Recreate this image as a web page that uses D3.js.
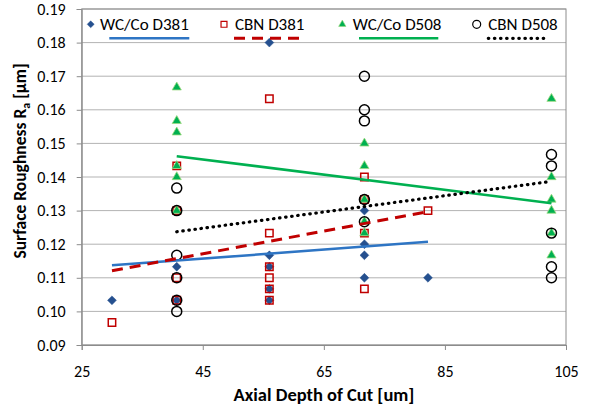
<!DOCTYPE html>
<html>
<head>
<meta charset="utf-8">
<script src="https://cdn.jsdelivr.net/npm/d3@7"></script>
<style>
  html, body { margin: 0; padding: 0; background: #fff; }
  svg { display: block; }
  text { font-family: Carlito, Calibri, Lato, "Noto Sans", sans-serif; fill: #000; }
</style>
</head>
<body>
<svg id="chart" width="602" height="407"></svg>
<script>
// Surface roughness Ra [µm] versus axial depth of cut [um]
const xTicks = [25, 45, 65, 85, 105];
const yTicks = [0.09, 0.10, 0.11, 0.12, 0.13, 0.14, 0.15, 0.16, 0.17, 0.18, 0.19];

const seriesNames = ["WC/Co D381", "CBN D381", "WC/Co D508", "CBN D508"];

const wcCoD381 = [
  [30, 0.1033],
  [40.7, 0.1133], [40.7, 0.1033],
  [56, 0.18], [56, 0.1167], [56, 0.1133], [56, 0.1067], [56, 0.1033],
  [71.7, 0.13], [71.7, 0.12], [71.7, 0.1167], [71.7, 0.11],
  [82.2, 0.11]
];
const cbnD381 = [
  [30, 0.0967],
  [40.7, 0.1433], [40.7, 0.13], [40.7, 0.11], [40.7, 0.1033],
  [56, 0.1633], [56, 0.1233], [56, 0.1133], [56, 0.11], [56, 0.1067], [56, 0.1033],
  [71.7, 0.14], [71.7, 0.1333], [71.7, 0.1233], [71.7, 0.1067],
  [82.2, 0.13]
];
const wcCoD508 = [
  [40.7, 0.1667], [40.7, 0.1567], [40.7, 0.1533], [40.7, 0.1433], [40.7, 0.14], [40.7, 0.13],
  [71.7, 0.15], [71.7, 0.1433], [71.7, 0.1333], [71.7, 0.1267], [71.7, 0.1233],
  [102.6, 0.1633], [102.6, 0.14], [102.6, 0.1333], [102.6, 0.13], [102.6, 0.1233], [102.6, 0.1167]
];
const cbnD508 = [
  [40.7, 0.1367], [40.7, 0.13], [40.7, 0.1167], [40.7, 0.11], [40.7, 0.1033], [40.7, 0.10],
  [71.7, 0.17], [71.7, 0.16], [71.7, 0.1567], [71.7, 0.1333], [71.7, 0.1267],
  [102.6, 0.1467], [102.6, 0.1433], [102.6, 0.1233], [102.6, 0.1133], [102.6, 0.11]
];

// Linear trend lines (start and end points)
const trendWcCoD381 = [[30, 0.1137], [82.2, 0.1207]];
const trendCbnD381  = [[30, 0.1121], [82.2, 0.1297]];
const trendWcCoD508 = [[40.7, 0.1462], [102.6, 0.1322]];
const trendCbnD508  = [[40.7, 0.1237], [102.6, 0.1387]];

const svg = d3.select("#chart");
const plot = { left: 81.7, right: 566, top: 9, bottom: 345 };

const x = d3.scaleLinear().domain([25, 105]).range([plot.left, plot.right]);
const y = d3.scaleLinear().domain([0.09, 0.19]).range([plot.bottom, plot.top]);

// gridlines
svg.append("g").selectAll("line").data(yTicks).join("line")
  .attr("x1", plot.left).attr("x2", plot.right)
  .attr("y1", d => y(d)).attr("y2", d => y(d))
  .attr("stroke", "#b3b3b3").attr("stroke-width", 1);

// plot frame
svg.append("rect")
  .attr("x", plot.left).attr("y", plot.top)
  .attr("width", plot.right - plot.left).attr("height", plot.bottom - plot.top)
  .attr("fill", "none").attr("stroke", "#8c8c8c").attr("stroke-width", 1);

// axes
const xAxis = d3.axisBottom(x).tickValues(xTicks).tickSize(5).tickPadding(16).tickFormat(d3.format("d"));
const yAxis = d3.axisLeft(y).tickValues(yTicks).tickSize(5).tickPadding(11).tickFormat(d3.format(".2f"));

const gx = svg.append("g").attr("transform", `translate(0,${plot.bottom})`).call(xAxis);
const gy = svg.append("g").attr("transform", `translate(${plot.left},0)`).call(yAxis);
[gx, gy].forEach(g => {
  g.select(".domain").attr("stroke", "#8c8c8c");
  g.selectAll(".tick line").attr("stroke", "#8c8c8c");
  g.selectAll(".tick text").attr("font-size", 16).attr("fill", "#000")
    .attr("font-family", "Carlito, Calibri, Lato, 'Noto Sans', sans-serif");
});

// axis titles
svg.append("text")
  .attr("x", 324).attr("y", 401)
  .attr("text-anchor", "middle")
  .attr("font-size", 18.5).attr("font-weight", "bold")
  .text("Axial Depth of Cut [um]");

const yTitle = svg.append("text")
  .attr("transform", "translate(26,161) rotate(-90)")
  .attr("text-anchor", "middle")
  .attr("font-size", 17.5).attr("font-weight", "bold");
yTitle.append("tspan").text("Surface Roughness R");
yTitle.append("tspan").attr("font-size", 12).attr("dy", 4).text("a");
yTitle.append("tspan").attr("dy", -4).text(" [µm]");

// trend lines
const line = d3.line().x(d => x(d[0])).y(d => y(d[1]));
const trends = [
  { data: trendWcCoD381, color: "#2e75c4", dash: null, width: 2.5 },
  { data: trendCbnD381,  color: "#c00000", dash: "11,7", width: 3 },
  { data: trendWcCoD508, color: "#00b050", dash: null, width: 2.5 },
  { data: trendCbnD508,  color: "#000000", dash: "0.5,5.6", width: 3.2, cap: "round" }
];

// marker symbols
const symDiamond = d3.symbol().type(d3.symbolDiamond2).size(50);
const symSquare = d3.symbol().type(d3.symbolSquare2).size(70);
const symTriangle = d3.symbol().type(d3.symbolTriangle2).size(60);
const symCircle = d3.symbol().type(d3.symbolCircle).size(78);

const series = [
  { data: wcCoD381, path: symDiamond(), fill: "#25508f", stroke: "#25508f", sw: 0.5 },
  { data: cbnD381, path: symSquare(), fill: "none", stroke: "#c00000", sw: 1.5 },
  { data: wcCoD508, path: symTriangle(), fill: "#00b050", stroke: "#9bd97f", sw: 0.8 },
  { data: cbnD508, path: symCircle(), fill: "none", stroke: "#000000", sw: 1.5 }
];

series.forEach(s => {
  svg.append("g").selectAll("path").data(s.data).join("path")
    .attr("transform", d => `translate(${x(d[0])},${y(d[1])})`)
    .attr("d", s.path)
    .attr("fill", s.fill).attr("stroke", s.stroke).attr("stroke-width", s.sw);
});

trends.forEach(t => {
  svg.append("path").datum(t.data)
    .attr("d", line)
    .attr("fill", "none")
    .attr("stroke", t.color)
    .attr("stroke-width", t.width)
    .attr("stroke-dasharray", t.dash)
    .attr("stroke-linecap", t.cap || "butt");
});

// legend
const legendItems = [
  { name: seriesNames[0], s: series[0], t: trends[0], mx: 90.7, tx: 100, l1: 109.3, l2: 189.3 },
  { name: seriesNames[1], s: series[1], t: trends[1], mx: 224, tx: 235, l1: 234, l2: 302 },
  { name: seriesNames[2], s: series[2], t: trends[2], mx: 342.3, tx: 352.7, l1: 359, l2: 438.3 },
  { name: seriesNames[3], s: series[3], t: trends[3], mx: 476.7, tx: 488.3, l1: 488.3, l2: 548.3 }
];
const legend = svg.append("g");
legendItems.forEach(it => {
  legend.append("path")
    .attr("transform", `translate(${it.mx},24.3) scale(0.8)`)
    .attr("d", it.s.path)
    .attr("fill", it.s.fill).attr("stroke", it.s.stroke).attr("stroke-width", it.s.sw);
  legend.append("text")
    .attr("x", it.tx).attr("y", 30)
    .attr("font-size", 17)
    .text(it.name);
  legend.append("line")
    .attr("x1", it.l1).attr("x2", it.l2).attr("y1", 38.3).attr("y2", 38.3)
    .attr("stroke", it.t.color).attr("stroke-width", it.t.width)
    .attr("stroke-dasharray", it.t.dash)
    .attr("stroke-linecap", it.t.cap || "butt");
});
</script>
</body>
</html>
